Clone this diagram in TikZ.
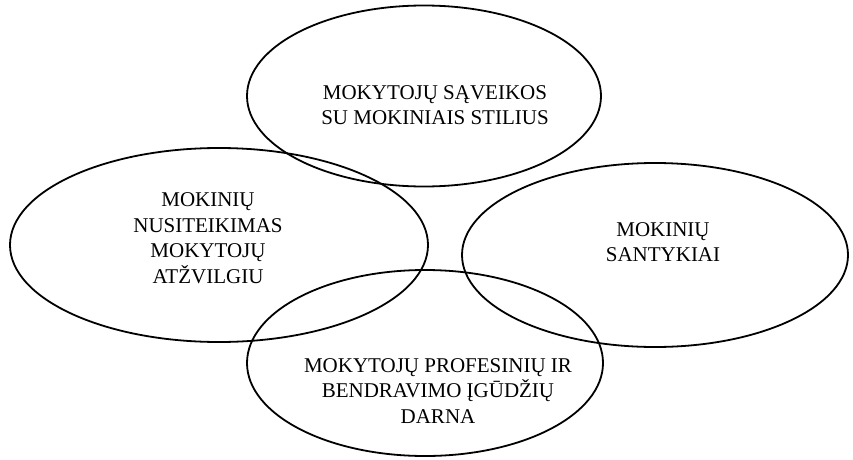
\documentclass[tikz,border=0pt]{standalone}
\usepackage{fontspec}
\setmainfont{Liberation Serif}
\usetikzlibrary{shapes.geometric}
\begin{document}
\begin{tikzpicture}[x=1pt,y=1pt,
  oval/.style={draw=black, line width=1.8pt, ellipse, inner sep=0pt},
  lbl/.style={align=center, font=\fontsize{21}{25.5}\selectfont, text=black}]
\useasboundingbox (0,0) rectangle (853,459);
\node[oval, minimum width=354, minimum height=181] (top) at (424,363) {};
\node[oval, minimum width=418, minimum height=194] (left) at (219,214) {};
\node[oval, minimum width=386, minimum height=184] (right) at (655,204) {};
\node[oval, minimum width=356, minimum height=186] (bottom) at (425,96) {};
\node[lbl] (ttop) at (435,354) {MOKYTOJŲ SĄVEIKOS\\SU MOKINIAIS STILIUS};
\node[lbl] (tleft) at (208,221) {MOKINIŲ\\NUSITEIKIMAS\\MOKYTOJŲ\\ATŽVILGIU};
\node[lbl] (tright) at (663,217) {MOKINIŲ\\SANTYKIAI};
\node[lbl] (tbottom) at (438,68) {MOKYTOJŲ PROFESINIŲ IR\\BENDRAVIMO ĮGŪDŽIŲ\\DARNA};
\end{tikzpicture}
\end{document}
